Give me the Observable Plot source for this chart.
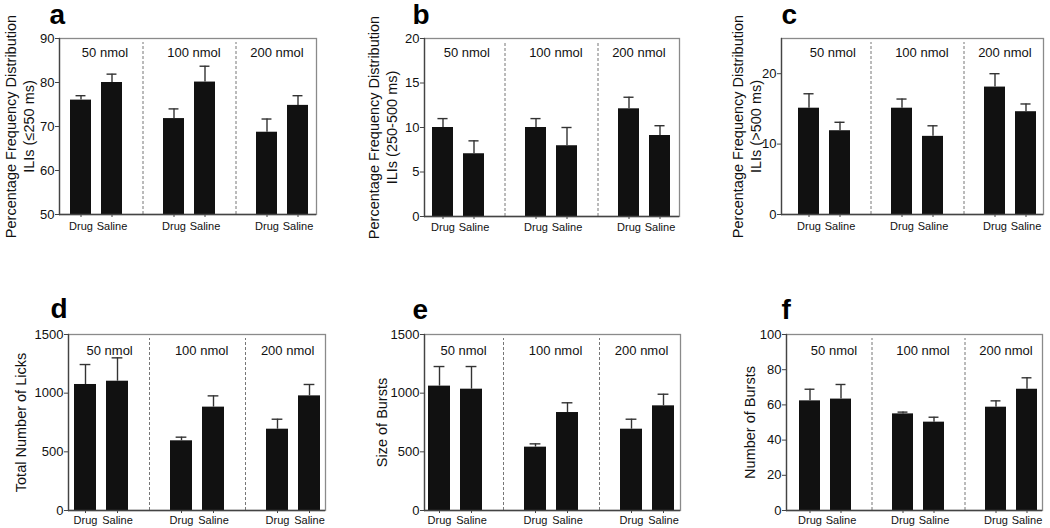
<!DOCTYPE html>
<html><head><meta charset="utf-8">
<script src="https://cdn.jsdelivr.net/npm/d3@7"></script>
<script src="https://cdn.jsdelivr.net/npm/@observablehq/plot@0.6"></script>
<style>
html,body{margin:0;padding:0;background:#fff;}
#root{position:relative;width:1050px;height:528px;overflow:hidden;font-family:"Liberation Sans",Arial,sans-serif;}
.panel{position:absolute;}
.panel svg{overflow:visible;}
</style></head><body><div id="root"></div>
<script>
// ---- data ----
const doses = ["50 nmol", "100 nmol", "200 nmol"];
const conditions = ["Drug", "Saline"];
const panelLetters = ["a", "b", "c", "d", "e", "f"];
const yTitles = [
  "Percentage Frequency Distribution\nILIs (≤250 ms)",
  "Percentage Frequency Distribution\nILIs (250-500 ms)",
  "Percentage Frequency Distribution\nILIs (>500 ms)",
  "Total Number of Licks",
  "Size of Bursts",
  "Number of Bursts"
];
// panel a: ILIs <=250 ms
const aDrug = [76.0, 71.8, 68.7], aDrugSem = [1.0, 2.2, 3.0];
const aSaline = [80.0, 80.1, 74.8], aSalineSem = [1.9, 3.6, 2.2];
const aTicks = [50, 60, 70, 80, 90];
// panel b: ILIs 250-500 ms
const bDrug = [10.0, 10.0, 12.1], bDrugSem = [1.0, 1.0, 1.3];
const bSaline = [7.05, 7.95, 9.1], bSalineSem = [1.45, 2.05, 1.1];
const bTicks = [0, 5, 10, 15, 20];
// panel c: ILIs >500 ms
const cDrug = [15.1, 15.1, 18.1], cDrugSem = [2.05, 1.3, 1.9];
const cSaline = [11.9, 11.1, 14.6], cSalineSem = [1.2, 1.5, 1.1];
const cTicks = [0, 10, 20];
// panel d: total licks
const dDrug = [1074, 594, 693], dDrugSem = [170, 31, 85];
const dSaline = [1102, 881, 977], dSalineSem = [199, 96, 97];
const dTicks = [0, 500, 1000, 1500];
// panel e: size of bursts
const eDrug = [1060, 540, 693], eDrugSem = [167, 28, 85];
const eSaline = [1034, 835, 892], eSalineSem = [193, 83, 99];
const eTicks = [0, 500, 1000, 1500];
// panel f: number of bursts
const fDrug = [62.3, 54.9, 58.7], fDrugSem = [6.6, 1.0, 3.6];
const fSaline = [63.3, 50.2, 68.9], fSalineSem = [8.3, 2.8, 6.5];
const fTicks = [0, 20, 40, 60, 80, 100];

// ---- layout ----
const panels = [
  {drug: aDrug, drugSem: aDrugSem, saline: aSaline, salineSem: aSalineSem, ticks: aTicks, yDomain: [50, 90],
   left: 0, top: 0, width: 350, height: 260, frame: [59, 316, 38, 214], bars: [66, 312], titleX: 19, letterX: 49, letterBase: 23, xPad: 5, labelDy: 14},
  {drug: bDrug, drugSem: bDrugSem, saline: bSaline, salineSem: bSalineSem, ticks: bTicks, yDomain: [0, 20],
   left: 350, top: 0, width: 350, height: 260, frame: [424, 679, 38, 216], bars: [429, 673], titleX: 381.5, letterX: 412, letterBase: 23, xPad: 4, labelDy: 14},
  {drug: cDrug, drugSem: cDrugSem, saline: cSaline, salineSem: cSalineSem, ticks: cTicks, yDomain: [0, 25],
   left: 700, top: 0, width: 350, height: 260, frame: [781, 1043, 38, 214], bars: [795, 1039], titleX: 746, letterX: 781, letterBase: 23, xPad: 5, labelDy: 14},
  {drug: dDrug, drugSem: dDrugSem, saline: dSaline, salineSem: dSalineSem, ticks: dTicks, yDomain: [0, 1500],
   left: 0, top: 260, width: 350, height: 268, frame: [68, 325, 334, 510], bars: [73, 321], titleX: 20, letterX: 50, letterBase: 317, xPad: 3, labelDy: 16},
  {drug: eDrug, drugSem: eDrugSem, saline: eSaline, salineSem: eSalineSem, ticks: eTicks, yDomain: [0, 1500],
   left: 350, top: 260, width: 350, height: 268, frame: [424, 680, 334, 510], bars: [428, 675], titleX: 381, letterX: 412, letterBase: 318, xPad: 3, labelDy: 16},
  {drug: fDrug, drugSem: fDrugSem, saline: fSaline, salineSem: fSalineSem, ticks: fTicks, yDomain: [0, 100],
   left: 700, top: 260, width: 350, height: 268, frame: [786, 1042, 334, 510], bars: [795, 1041], titleX: 749, letterX: 781, letterBase: 318, xPad: 3, labelDy: 16}
];
const labelShift = [8, 4, -6];
const FONT = '"Liberation Sans", Arial, Helvetica, sans-serif';

function makePanel(cfg, idx) {
  const rows = [];
  doses.forEach((dose, i) => {
    rows.push({key: "Drug|" + dose, value: cfg.drug[i], sem: cfg.drugSem[i]});
    rows.push({key: "Saline|" + dose, value: cfg.saline[i], sem: cfg.salineSem[i]});
  });
  const domainX = [];
  doses.forEach((d, i) => {
    if (i > 0) domainX.push("gap" + i);
    conditions.forEach(c => domainX.push(c + "|" + d));
  });
  const gaps = domainX.filter(k => k.startsWith("gap"));
  const pi = 0.31;
  const xr = [cfg.bars[0] - cfg.left, cfg.bars[1] - cfg.left];
  const step = (xr[1] - xr[0]) / (domainX.length - pi);
  const bw = step * (1 - pi);
  const capInset = Math.max(0, (bw - 11) / 2);
  const ml = cfg.frame[0] - cfg.left, mr = cfg.left + cfg.width - cfg.frame[1];
  const mt = cfg.frame[2] - cfg.top, mb = cfg.top + cfg.height - cfg.frame[3];
  const [lo, hi] = cfg.yDomain;

  const plot = Plot.plot({
    width: cfg.width, height: cfg.height,
    marginLeft: ml, marginRight: mr, marginTop: mt, marginBottom: mb,
    style: {fontFamily: FONT, background: "transparent", color: "#111", overflow: "visible"},
    x: {type: "band", domain: domainX, range: xr, paddingInner: pi, paddingOuter: 0, axis: null, label: null},
    y: {domain: cfg.yDomain, axis: null, label: null},
    marks: [
      Plot.frame({stroke: "#8a8a8a", strokeWidth: 1.3}),
      Plot.ruleX(gaps, {x: d => d, y1: lo, y2: hi, stroke: "#777", strokeWidth: 1, strokeDasharray: "3,2", insetBottom: -4}),
      Plot.barY(rows, {x: "key", y1: lo, y2: "value", fill: "#111"}),
      Plot.ruleX(rows, {x: "key", y1: "value", y2: d => d.value + d.sem, stroke: "#333", strokeWidth: 1.4}),
      Plot.tickY(rows, {x: "key", y: d => d.value + d.sem, stroke: "#333", strokeWidth: 1.4, insetLeft: capInset, insetRight: capInset}),
      Plot.axisX({ticks: rows.map(r => r.key), tickFormat: k => k.split("|")[0], tickSize: 3, tickPadding: cfg.xPad, fontSize: 11, stroke: "#444", label: null}),
      Plot.axisY({ticks: cfg.ticks, tickFormat: v => String(v), tickSize: 4, tickPadding: 1, fontSize: 13, stroke: "#444", label: null}),
      Plot.ruleY([lo], {stroke: "#444", strokeWidth: 1.3}),
      Plot.frame({anchor: "left", stroke: "#444", strokeWidth: 1.3}),
      ...doses.map((d, i) => Plot.text([d], {
        x: () => "Drug|" + d, text: t => t, frameAnchor: "top", dy: cfg.labelDy,
        dx: step / 2 + labelShift[i], lineAnchor: "middle", fontSize: 13, fill: "#111"
      })),
      Plot.text([yTitles[idx]], {
        text: t => t, frameAnchor: "left", rotate: -90, dx: cfg.titleX - cfg.frame[0],
        textAnchor: "middle", lineAnchor: "middle", fontSize: 14.5, lineHeight: 1.25, fill: "#111"
      }),
      Plot.text([panelLetters[idx]], {
        text: t => t, frameAnchor: "top-left", textAnchor: "start", lineAnchor: "bottom",
        dx: cfg.letterX - cfg.frame[0], dy: cfg.letterBase - cfg.frame[2],
        fontSize: 28, fontWeight: "bold", fill: "#000"
      })
    ]
  });
  const div = document.createElement("div");
  div.className = "panel";
  div.style.left = cfg.left + "px";
  div.style.top = cfg.top + "px";
  div.appendChild(plot);
  document.getElementById("root").appendChild(div);
}
panels.forEach(makePanel);
</script>
</body></html>
